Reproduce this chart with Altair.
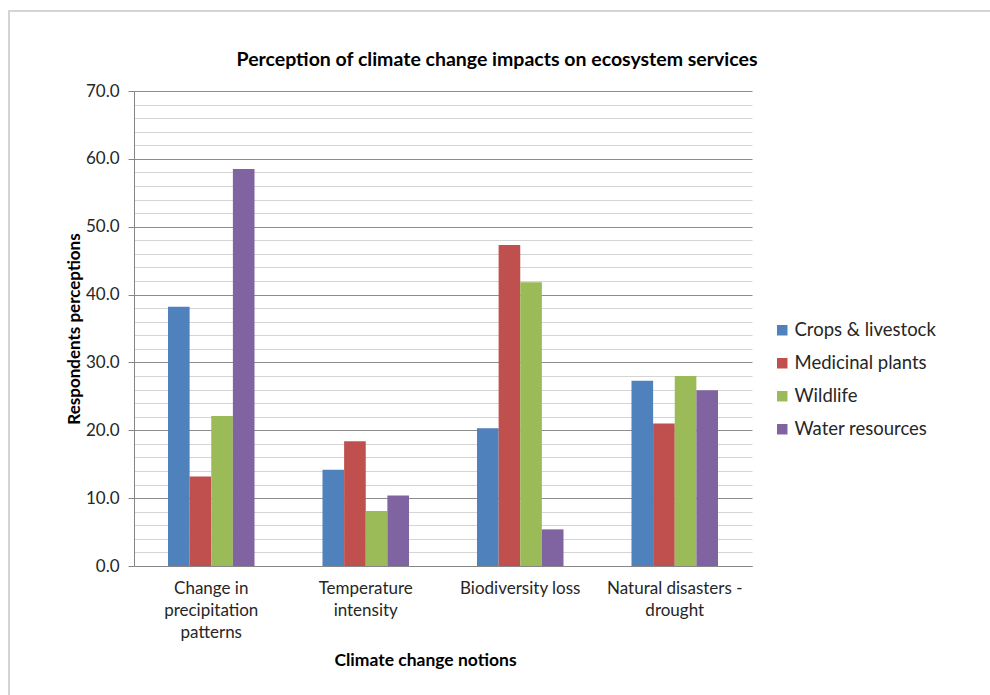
import json
import altair as alt
import pandas as pd

# Climate change notions on the x axis, one bar per ecosystem service
categories = [
    "Change in precipitation patterns",
    "Temperature intensity",
    "Biodiversity loss",
    "Natural disasters - drought",
]
category_lines = [
    ["Change in", "precipitation", "patterns"],
    ["Temperature", "intensity"],
    ["Biodiversity loss"],
    ["Natural disasters -", "drought"],
]
services = ["Crops & livestock", "Medicinal plants", "Wildlife", "Water resources"]
colors = ["#4F81BD", "#C0504D", "#9BBB59", "#8064A2"]

crops_livestock = [38.2, 14.2, 20.3, 27.3]
medicinal_plants = [13.2, 18.4, 47.3, 21.0]
wildlife = [22.1, 8.1, 41.8, 28.0]
water_resources = [58.5, 10.4, 5.4, 25.9]

chart_title = "Perception of climate change impacts on ecosystem services"

series = [crops_livestock, medicinal_plants, wildlife, water_resources]
rows = []
for name, vals in zip(services, series):
    for cat, v in zip(categories, vals):
        rows.append({"notion": cat, "service": name, "value": v})
df = pd.DataFrame(rows)

font = "Lato"
line_map = json.dumps(dict(zip(categories, category_lines)))

major = "datum.value % 10 === 0"

bars = alt.Chart(df).mark_bar().encode(
    x=alt.X(
        "notion:N",
        sort=categories,
        scale=alt.Scale(paddingInner=0.44, paddingOuter=0.22),
        axis=alt.Axis(
            title="Climate change notions",
            labelExpr=f"{line_map}[datum.label]",
            labelAngle=0,
            labelFontSize=17,
            labelLineHeight=22,
            labelColor="#262626",
            labelPadding=14,
            labelBaseline="top",
            ticks=False,
            domainColor="#868686",
            titleFontSize=17.5,
            titleFontWeight="bold",
            titleColor="#000000",
            titleX=291,
            titleY=94,
            titleBaseline="middle",
        ),
    ),
    xOffset=alt.XOffset("service:N", sort=services, scale=alt.Scale(paddingInner=0, paddingOuter=0)),
    y=alt.Y(
        "value:Q",
        scale=alt.Scale(domain=[0, 70], nice=False),
        axis=alt.Axis(
            title="Respondents perceptions",
            values=list(range(0, 71, 2)),
            labelExpr=f"{major} ? format(datum.value, '.1f') : ''",
            labelFontSize=17,
            labelColor="#262626",
            labelPadding=9,
            tickSize=6,
            tickColor="#868686",
            tickOpacity={"condition": {"test": major, "value": 1}, "value": 0},
            gridColor={"condition": {"test": major, "value": "#8c8c8c"}, "value": "#d4d4d4"},
            gridWidth=1,
            domainColor="#868686",
            titleFontSize=17,
            titleFontWeight="bold",
            titleColor="#000000",
            titlePadding=2,
        ),
    ),
    color=alt.Color(
        "service:N",
        sort=services,
        scale=alt.Scale(domain=services, range=colors),
        legend=alt.Legend(
            title=None,
            orient="none",
            legendX=639,
            legendY=230,
            symbolType="square",
            symbolSize=110,
            symbolStrokeWidth=0,
            labelFontSize=18.5,
            labelColor="#262626",
            rowPadding=14,
            labelOffset=3,
        ),
    ),
)

single = pd.DataFrame({"k": [0]})

# light frame around the whole figure
frame = alt.Chart(single).mark_rect(
    fill=None, stroke="#d4d4d4", strokeWidth=2
).encode(
    x=alt.value(-125), x2=alt.value(870), y=alt.value(-80), y2=alt.value(620)
)

# chart heading, centred over the figure
heading = alt.Chart(single).mark_text(
    text=chart_title,
    font=font,
    fontSize=19.5,
    fontWeight="bold",
    color="#000000",
    align="center",
    baseline="middle",
).encode(x=alt.value(363), y=alt.value(-31))

chart = alt.layer(frame, bars, heading).properties(
    width=618,
    height=475,
    autosize=alt.AutoSizeParams(type="none"),
    padding={"left": 134, "top": 91, "right": 238, "bottom": 129},
).configure(font=font).configure_view(stroke=None).configure_axis(
    labelFont=font, titleFont=font
).configure_legend(labelFont=font)

chart.save("out.html", embed_options={"renderer": "svg", "actions": False})
